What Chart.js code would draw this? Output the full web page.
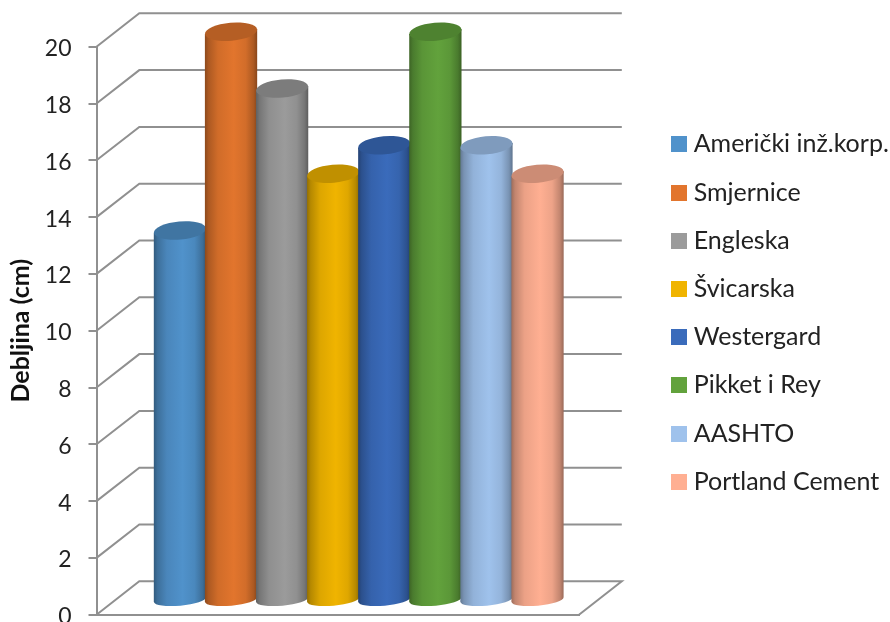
<!DOCTYPE html>
<html>
<head>
<meta charset="utf-8">
<title>Debljina</title>
<script src="https://cdn.jsdelivr.net/npm/chart.js@4"></script>
<style>
  html, body { margin: 0; padding: 0; background: #fff; overflow: hidden; }
  #wrap { position: relative; width: 890px; height: 622px; }
</style>
</head>
<body>
<div id="wrap"><canvas id="graph"></canvas></div>
<script>
var series = ["Američki inž.korp.", "Smjernice", "Engleska", "Švicarska", "Westergard", "Pikket i Rey", "AASHTO", "Portland Cement"];
var values = [13, 20, 18, 15, 16, 20, 16, 15];
var colors = ["#5092CB", "#E2752D", "#9B9B9B", "#F0B400", "#3A6BBB", "#62A23C", "#9FC2EC", "#FFAF92"];
var categories = [""];

var lineColor = "#909090";
var textColor = "#222222";
var fontName = "Lato, 'Open Sans', sans-serif";

// depth of the 3D box
var depthX = 42.8;
var depthY = 33.4;
// how far the cylinders sit inside the box
var barShiftX = 21;
var barShiftY = 15;
var topRadiusY = 9;
var bottomRadiusY = 6;
var tilt = -0.09;

function shade(hex, k) {
  var r = parseInt(hex.substr(1, 2), 16);
  var g = parseInt(hex.substr(3, 2), 16);
  var b = parseInt(hex.substr(5, 2), 16);
  return "rgb(" + Math.round(r * k) + "," + Math.round(g * k) + "," + Math.round(b * k) + ")";
}

// square legend swatch
function swatch(color) {
  var c = document.createElement("canvas");
  c.width = 16;
  c.height = 16;
  var g = c.getContext("2d");
  g.fillStyle = color;
  g.fillRect(0, 0, 16, 16);
  return c;
}

function drawBox(chart) {
  var ctx = chart.ctx;
  var yScale = chart.scales.y;
  var xScale = chart.scales.x;
  var left = xScale.left;
  var right = xScale.right;
  ctx.save();
  ctx.strokeStyle = lineColor;
  ctx.lineWidth = 2;
  yScale.ticks.forEach(function(tick) {
    var y = yScale.getPixelForValue(tick.value);
    ctx.beginPath();
    ctx.moveTo(left, y);
    ctx.lineTo(left + depthX, y - depthY);
    ctx.lineTo(right + depthX, y - depthY);
    if (tick.value === 0) {
      ctx.lineTo(right, y);
    }
    ctx.stroke();
  });
  ctx.restore();
}

function drawCylinder(ctx, bar, base, color) {
  var rx = bar.width / 2 + 0.6;
  var cx = bar.x + barShiftX;
  var topY = bar.y - barShiftY;
  var botY = base - barShiftY;
  var dy = rx * Math.sin(tilt);

  var grad = ctx.createLinearGradient(cx - rx, 0, cx + rx, 0);
  grad.addColorStop(0, shade(color, 0.62));
  grad.addColorStop(0.07, shade(color, 0.76));
  grad.addColorStop(0.25, shade(color, 0.92));
  grad.addColorStop(0.55, color);
  grad.addColorStop(0.78, shade(color, 0.93));
  grad.addColorStop(0.93, shade(color, 0.76));
  grad.addColorStop(1, shade(color, 0.6));

  ctx.beginPath();
  ctx.moveTo(cx - rx, topY - dy);
  ctx.lineTo(cx - rx, botY - dy);
  ctx.ellipse(cx, botY, rx, bottomRadiusY, tilt, Math.PI, 0, true);
  ctx.lineTo(cx + rx, topY + dy);
  ctx.closePath();
  ctx.fillStyle = grad;
  ctx.fill();

  // front rim under the lid
  ctx.beginPath();
  ctx.ellipse(cx, topY, rx, topRadiusY, tilt, 0, Math.PI);
  ctx.lineTo(cx - rx, topY - dy);
  ctx.fillStyle = grad;
  ctx.fill();

  ctx.beginPath();
  ctx.ellipse(cx, topY, rx, topRadiusY, tilt, 0, Math.PI * 2);
  ctx.fillStyle = shade(color, 0.8);
  ctx.fill();
}

var cylinders = {
  id: "cylinders",
  afterLayout: function(chart) {
    // legend column sits clear of the box
    var legend = chart.legend;
    legend.left = 653;
    legend.right = 890;
    legend.top = 2;
    legend.bottom = 624;
  },
  beforeDatasetsDraw: function(chart) {
    drawBox(chart);
    var ctx = chart.ctx;
    var base = chart.scales.y.getPixelForValue(0);
    chart.data.datasets.forEach(function(ds, i) {
      var bar = chart.getDatasetMeta(i).data[0];
      drawCylinder(ctx, bar, base, colors[i]);
    });
    return false;
  }
};

var datasets = [];
for (var i = 0; i < series.length; i++) {
  datasets.push({
    label: series[i],
    data: [values[i]],
    backgroundColor: colors[i],
    categoryPercentage: 0.847,
    barPercentage: 1
  });
}

var chart = new Chart(document.getElementById("graph").getContext("2d"), {
  type: "bar",
  data: { labels: categories, datasets: datasets },
  plugins: [cylinders],
  options: {
    responsive: true,
    maintainAspectRatio: false,
    animation: false,
    layout: { padding: { left: 0, top: 46.7, right: 118, bottom: 7.3 } },
    plugins: {
      tooltip: { enabled: false },
      legend: {
        position: "right",
        labels: {
          usePointStyle: true,
          pointStyleWidth: 5,
          boxHeight: 16,
          padding: 23.2,
          color: textColor,
          font: { family: fontName, size: 25 },
          generateLabels: function(c) {
            return c.data.datasets.map(function(ds, i) {
              return {
                text: ds.label,
                pointStyle: swatch(colors[i]),
                fontColor: textColor,
                datasetIndex: i
              };
            });
          }
        }
      }
    },
    scales: {
      x: {
        afterFit: function(scale) {
          scale.height = 0;
          scale.paddingLeft = 0;
          scale.paddingRight = 0;
        },
        ticks: { display: false },
        grid: { display: false, drawTicks: false },
        border: { color: lineColor, width: 2 }
      },
      y: {
        min: 0,
        max: 20,
        afterFit: function(scale) {
          scale.width = 96.5;
          scale.paddingTop = 0;
          scale.paddingBottom = 0;
        },
        ticks: {
          stepSize: 2,
          padding: 17,
          labelOffset: 2,
          color: textColor,
          font: { family: fontName, size: 23 }
        },
        grid: { drawOnChartArea: false, tickLength: 8, color: lineColor, lineWidth: 2 },
        border: { color: lineColor, width: 2 },
        title: {
          display: true,
          text: "Debljina (cm)",
          color: "#111111",
          padding: { top: 6, bottom: 0 },
          font: { family: fontName, size: 25, weight: "bold" }
        }
      }
    }
  }
});
</script>
</body>
</html>
